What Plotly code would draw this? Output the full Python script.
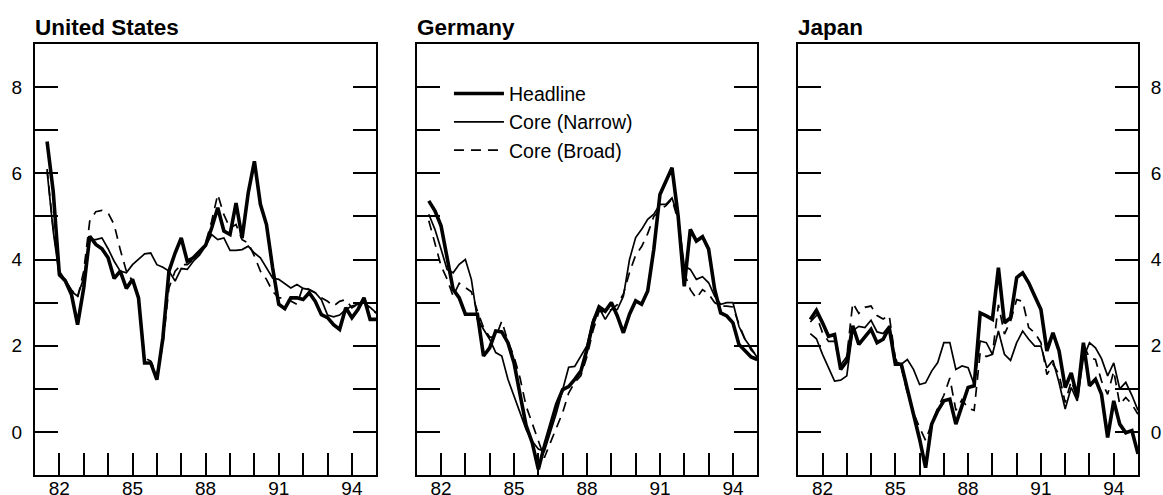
import plotly.graph_objects as go
import pandas as pd

# quarterly observations, 1981Q3 .. 1995Q1
quarters = pd.date_range("1981-07-01", periods=55, freq="QS")

us_headline = [6.74, 5.58, 3.65, 3.50, 3.19, 2.49, 3.34, 4.54, 4.35, 4.25, 4.04, 3.56, 3.73, 3.33,
               3.54, 3.11, 1.60, 1.60, 1.21, 2.18, 3.73, 4.15, 4.50, 3.96, 4.04, 4.19, 4.33, 4.73,
               5.20, 4.66, 4.58, 5.31, 4.50, 5.55, 6.28, 5.28, 4.81, 3.81, 2.96, 2.86, 3.11, 3.11,
               3.07, 3.23, 3.03, 2.72, 2.65, 2.49, 2.38, 2.88, 2.65, 2.84, 3.11, 2.61, 2.61]
us_narrow = [6.05, 4.66, 3.61, 3.54, 3.26, 3.15, 3.57, 4.46, 4.46, 4.50, 4.25, 3.96, 3.73, 3.69,
             3.88, 4.00, 4.13, 4.15, 3.88, 3.82, 3.73, 3.50, 3.79, 3.77, 3.96, 4.10, 4.31, 4.58,
             4.46, 4.50, 4.21, 4.21, 4.23, 4.31, 4.15, 4.04, 3.81, 3.57, 3.54, 3.43, 3.34, 3.42,
             3.33, 3.30, 3.23, 3.07, 2.71, 2.67, 2.71, 2.84, 2.92, 2.96, 3.00, 2.89, 2.76]
us_broad = [6.10, 4.70, 3.73, 3.50, 3.30, 3.11, 3.73, 4.89, 5.11, 5.14, 5.08, 4.81, 4.23, 3.73,
            3.50, 3.11, 1.72, 1.64, 1.33, 2.03, 3.34, 3.73, 3.88, 3.88, 4.00, 4.15, 4.38, 4.89,
            5.51, 5.04, 4.73, 4.81, 4.46, 4.38, 4.08, 3.73, 3.54, 3.26, 3.11, 3.11, 3.03, 2.96,
            3.38, 3.30, 3.23, 3.11, 3.03, 2.92, 3.03, 3.07, 2.88, 2.96, 3.03, 2.84, 2.76]

de_headline = [5.36, 5.13, 4.78, 4.08, 3.31, 3.11, 2.73, 2.73, 2.73, 1.76, 1.95, 2.34, 2.32, 2.07,
               1.60, 0.87, 0.15, -0.25, -0.87, -0.33, 0.17, 0.64, 0.98, 1.05, 1.22, 1.41, 1.91,
               2.53, 2.90, 2.80, 3.00, 2.69, 2.30, 2.73, 3.04, 2.96, 3.27, 4.24, 5.51, 5.82, 6.13,
               5.01, 3.38, 4.70, 4.43, 4.53, 4.24, 3.31, 2.76, 2.69, 2.53, 2.03, 1.87, 1.74, 1.68]
de_narrow = [5.05, 4.70, 4.24, 3.77, 3.69, 3.89, 4.00, 3.54, 2.61, 2.38, 2.15, 1.84, 1.76, 1.22,
             0.83, 0.40, 0.06, -0.22, -0.40, -0.45, 0.00, 0.45, 0.98, 1.50, 1.52, 1.75, 2.00,
             2.60, 2.88, 2.61, 2.84, 2.84, 3.15, 4.00, 4.51, 4.70, 4.93, 5.05, 5.28, 5.28, 5.43,
             5.00, 3.85, 3.77, 3.54, 3.60, 3.46, 3.15, 2.96, 3.00, 3.00, 2.45, 2.15, 1.95, 1.72]
de_broad = [4.90, 4.40, 3.85, 3.55, 3.15, 3.45, 3.35, 3.25, 2.80, 2.42, 2.20, 2.20, 2.57, 2.10,
            1.75, 1.25, 0.60, 0.20, -0.20, -0.60, -0.25, 0.10, 0.45, 0.90, 1.15, 1.30, 1.75,
            2.35, 2.80, 2.78, 2.84, 2.95, 3.20, 3.70, 4.10, 4.30, 4.60, 5.00, 5.15, 5.25, 5.40,
            4.90, 3.70, 3.30, 3.10, 3.30, 3.20, 3.00, 2.92, 2.92, 2.90, 2.50, 2.15, 1.90, 1.76]

jp_headline = [2.61, 2.82, 2.53, 2.22, 2.26, 1.45, 1.64, 2.46, 2.03, 2.19, 2.38, 2.07, 2.15, 2.42,
               1.57, 1.57, 1.03, 0.41, -0.17, -0.83, 0.18, 0.49, 0.72, 0.76, 0.18, 0.64, 1.03,
               1.07, 2.76, 2.69, 2.61, 3.81, 2.53, 2.65, 3.58, 3.69, 3.46, 3.15, 2.84, 1.88, 2.30,
               1.88, 1.03, 1.37, 0.80, 2.07, 1.07, 1.22, 0.87, -0.13, 0.72, 0.18, -0.02, 0.03, -0.51]
jp_narrow = [2.28, 2.16, 1.80, 1.49, 1.18, 1.20, 1.30, 2.35, 2.45, 2.42, 2.59, 2.32, 2.28, 2.46,
             1.64, 1.57, 1.68, 1.45, 1.10, 1.14, 1.41, 1.61, 2.07, 2.07, 1.45, 1.53, 1.49, 1.10,
             2.11, 2.07, 1.80, 2.34, 1.80, 1.66, 2.07, 2.34, 2.15, 1.99, 1.99, 1.49, 1.66, 1.14,
             0.53, 1.03, 0.72, 1.72, 2.07, 1.95, 1.70, 1.30, 1.60, 1.00, 1.15, 0.85, 0.50]
jp_broad = [2.55, 2.70, 2.30, 2.10, 2.10, 1.55, 1.75, 2.99, 2.75, 2.89, 2.92, 2.70, 2.62, 2.70,
            1.70, 1.50, 0.90, 0.45, 0.10, -0.20, 0.20, 0.55, 0.85, 1.25, 0.50, 0.75, 0.55, 0.50,
            1.85, 1.75, 1.80, 2.95, 2.27, 2.57, 3.07, 3.03, 2.42, 2.30, 2.07, 1.33, 1.57, 1.33,
            0.68, 1.18, 0.80, 2.03, 1.72, 1.68, 1.18, 0.87, 1.41, 0.64, 0.80, 0.64, 0.41]

countries = ["United States", "Germany", "Japan"]
series_names = ["Headline", "Core (Narrow)", "Core (Broad)"]
panel_data = [
    [us_headline, us_narrow, us_broad],
    [de_headline, de_narrow, de_broad],
    [jp_headline, jp_narrow, jp_broad],
]

year_ticks = pd.date_range("1982-01-01", "1994-01-01", freq="YS")
year_labels = ["82", "", "", "85", "", "", "88", "", "", "91", "", "", "94"]
y_ticks = list(range(-1, 10))
y_labels = ["" if v % 2 else str(v) for v in y_ticks]

FONT = "Liberation Sans, Arial, Helvetica, sans-serif"
line_styles = [
    dict(color="black", width=3.6),
    dict(color="black", width=1.7),
    dict(color="black", width=1.7, dash="10px,7px"),
]
domains = [[0.0, 0.3094], [0.3461, 0.6548], [0.692, 1.0]]

fig = go.Figure()

for i, country in enumerate(countries):
    ax = "" if i == 0 else str(i + 1)
    for j, name in enumerate(series_names):
        fig.add_trace(go.Scatter(
            x=quarters,
            y=panel_data[i][j],
            mode="lines",
            name=name,
            line=line_styles[j],
            showlegend=(i == 1),
            xaxis="x" + ax,
            yaxis="y" + ax,
            hoverinfo="skip",
        ))

    fig.update_layout({
        "xaxis" + ax: dict(
            domain=domains[i],
            anchor="y" + ax,
            type="date",
            range=["1981-01-01", "1995-01-01"],
            tickvals=year_ticks,
            ticktext=year_labels,
            ticks="inside",
            ticklen=22,
            tickwidth=2,
            tickcolor="black",
            showline=True,
            linecolor="black",
            linewidth=2,
            mirror=True,
            showgrid=False,
            zeroline=False,
            automargin=False,
            ticklabelstandoff=-5,
            tickfont=dict(size=19, color="black", family=FONT),
        ),
        "yaxis" + ax: dict(
            domain=[0, 1],
            anchor="x" + ax,
            range=[-1, 9],
            tickvals=y_ticks,
            ticktext=y_labels,
            ticks="inside",
            ticklen=23,
            tickwidth=2,
            tickcolor="black",
            showline=True,
            linecolor="black",
            linewidth=2,
            mirror="ticks",
            showgrid=False,
            zeroline=False,
            automargin=False,
            side="right" if i == 2 else "left",
            showticklabels=(i != 1),
            ticklabelstandoff=7,
            tickfont=dict(size=19, color="black", family=FONT),
        ),
    })

    fig.add_annotation(
        text="<b>" + country + "</b>",
        xref="paper", yref="paper",
        x=domains[i][0], y=1.0394,
        xanchor="left", yanchor="middle",
        xshift=-2,
        showarrow=False,
        font=dict(size=22.5, color="black", family=FONT),
    )

fig.update_layout(
    width=1163,
    height=495,
    margin=dict(l=35, r=25, t=44, b=20),
    paper_bgcolor="white",
    plot_bgcolor="white",
    font=dict(family=FONT, color="black"),
    legend=dict(
        x=0.3753, y=0.9296,
        xanchor="left", yanchor="top",
        itemwidth=50,
        tracegroupgap=0,
        bgcolor="rgba(0,0,0,0)",
        font=dict(size=19.5, color="black", family=FONT),
    ),
)

fig.write_html("out.html", config={"displayModeBar": False},
               post_script="document.body.style.margin='0';")
